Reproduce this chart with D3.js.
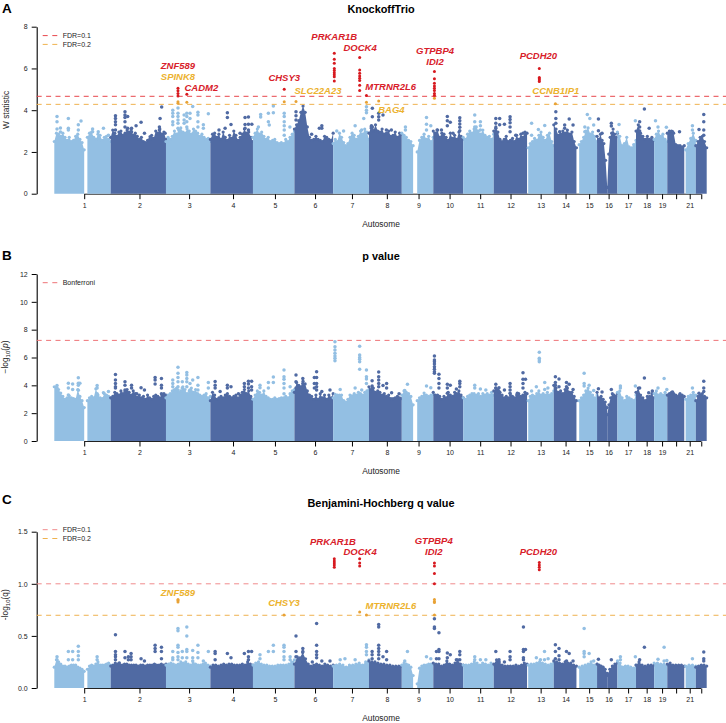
<!DOCTYPE html>
<html>
<head>
<meta charset="utf-8">
<script src="https://cdn.jsdelivr.net/npm/d3@7"></script>
<style>
  body { margin: 0; background: #fff; }
  text { font-family: "Liberation Sans", Arial, sans-serif; }
</style>
</head>
<body>
<script>
// genome position is in Mb along the concatenated autosomes
const tickPos = [132,376,595,789,974,1151,1314,1468,1608,1745,1880,2014,2147,2257,2361,2447,2533,2615,2683,2745,2805,2856];
const tickLabels = ["1","2","3","4","5","6","7","8","9","10","11","12","13","14","15","16","17","18","19","","21",""];
const chrStarts = [0,249,493,689,877,1060,1231,1389,1534,1673,1805,1940,2087,2205,2305,2396,2486,2568,2648,2706,2781,2832];

// stretches of genome with SNPs (start, end); the gaps are centromeres
const segments = [[0,132],[146,249],[249,493],[493,689],[689,877],[877,1060],[1060,1231],[1231,1389],[1389,1534],
  [1534,1584],[1602,1673],[1673,1805],[1805,1940],[1940,2087],[2092,2205],[2205,2305],[2317,2396],[2396,2441],[2441,2486],
  [2486,2568],[2568,2648],[2648,2706],[2706,2781],[2787,2832],[2832,2880]];

// top of the mass per segment, evenly sampled along it
const kfEnvelope = [
  [2.5,2.9,2.85,2.75,2.9,2.7,2.55,2.7,2.5,2.55,2.75,2.85,2.6,2.45,2.1],
  [2.7,2.9,2.95,2.7,2.6,2.85,2.8,2.55,2.7,2.75,2.6,2.5],
  [2.7,3.05,2.9,2.75,2.95,3.0,2.8,2.9,3.05,2.95,3.1,2.8,2.9,2.75,2.6,2.7,2.5,2.45,2.55,2.6,2.8,2.65,3.0,2.9,3.1,2.85,2.95,2.6],
  [2.5,2.7,2.6,2.75,3.0,2.85,3.05,3.15,2.95,2.9,3.1,3.0,2.85,3.1,3.0,2.9,2.75,2.85,2.7,2.6,2.65,2.5],
  [2.6,2.85,2.9,2.7,2.85,2.6,2.95,2.7,2.55,2.8,2.65,3.0,2.8,2.55,2.7,2.85,3.1,2.9,2.95,2.7,2.5],
  [2.7,2.9,3.1,2.85,2.95,2.75,2.6,2.7,2.5,2.55,2.6,2.45,2.4,2.45,2.4,2.6,2.5,2.7,2.85,3.0],
  [3.1,3.3,3.5,3.9,4.2,3.9,3.2,2.7,2.55,2.6,2.75,2.6,2.55,2.5,2.75,2.7,2.6,2.55,2.9],
  [2.4,2.6,2.5,2.9,2.7,2.45,2.3,2.4,2.7,2.9,2.8,2.6,2.75,3.0,2.85,3.1,2.95,2.6],
  [2.9,3.2,3.0,3.3,3.0,2.95,3.1,2.85,2.9,3.0,2.75,2.8,2.95,2.7,2.9,2.85],
  [2.9,2.8,2.7,2.55,2.5,2.3],
  [2.0,2.55,2.7,2.85,2.6,2.75,2.5,2.7],
  [3.0,2.9,3.05,2.7,2.9,2.85,2.7,2.55,2.9,2.65,2.8,2.6,2.95,2.75,2.6],
  [2.7,2.6,2.85,3.0,2.9,3.1,3.2,3.0,2.85,3.05,2.8,2.7,2.75,2.6,2.85],
  [3.0,3.2,2.95,2.6,2.5,2.6,2.75,2.5,2.55,2.65,2.5,2.8,2.6,2.85,2.7,2.95,2.9],
  [2.2,2.4,2.5,2.65,2.55,2.8,2.95,2.7,2.55,2.8,2.9,2.5,2.3],
  [3.3,3.1,2.8,2.85,3.0,2.9,3.05,2.85,2.95,2.5,2.2],
  [2.35,2.5,2.7,3.0,3.15,2.85,2.95,2.75,2.5],
  [2.75,2.6,2.85,2.55,2.4,1.6,0.3],
  [0.3,1.9,2.7,2.9,3.1,2.85,2.7,2.9],
  [2.95,2.75,2.3,2.4,2.7,2.25,2.2,2.35,2.55],
  [3.0,3.3,2.9,2.75,2.6,2.75,2.6,2.7,2.55],
  [2.6,2.85,3.0,2.75,2.85,2.6,2.5],
  [2.9,3.0,3.0,2.9,2.35,2.3,2.3,2.25,2.3],
  [2.1,2.4,2.65,2.9,2.55],
  [2.3,2.5,2.7,2.75,2.5,2.2]
];
const pEnvelope = [
  [3.9,3.85,3.7,3.45,3.2,3.0,3.1,3.25,3.1,3.05,3.0,3.7,3.2,2.9,2.4],
  [2.9,3.1,3.2,3.1,3.75,3.3,3.1,3.05,3.4,3.3,3.2,3.1],
  [3.1,3.2,3.5,3.4,3.3,3.6,3.4,3.55,3.7,3.5,3.3,3.6,3.4,3.15,3.3,3.1,3.2,3.0,3.3,3.1,3.0,3.2,3.3,3.2,3.1,3.3,3.4,3.3],
  [3.1,3.3,3.4,3.6,3.7,3.8,3.5,3.6,3.9,3.7,3.4,3.6,3.8,3.5,3.7,3.4,3.3,3.2,3.3,3.4,3.1,3.2],
  [2.9,3.5,3.3,3.0,3.1,3.2,3.1,3.3,3.4,3.2,3.1,3.2,3.3,3.1,3.3,3.5,3.7,3.4,3.6,3.2,3.0],
  [3.0,3.3,3.6,3.5,3.3,3.6,3.2,3.1,3.0,3.0,3.1,3.0,3.05,3.1,3.1,3.2,3.1,3.4,3.6,3.7],
  [3.5,4.2,4.0,3.9,4.3,4.1,3.6,3.3,3.2,3.0,3.3,3.0,3.4,3.1,3.3,3.0,3.3,3.1,3.4],
  [3.1,3.35,3.3,3.3,3.3,2.9,2.8,3.0,3.3,3.25,3.4,3.3,3.5,3.4,3.3,3.5,3.6,3.7],
  [3.9,3.7,3.8,3.5,3.6,3.5,3.3,3.4,3.2,3.3,3.05,3.05,3.1,3.2,3.1,3.05],
  [3.3,3.6,3.5,3.4,3.2,2.6],
  [2.9,3.1,3.2,3.45,3.3,3.2,3.3,3.35],
  [3.5,3.3,3.3,3.2,3.0,3.2,3.1,3.5,3.3,3.2,3.5,3.4,3.6,3.3,3.1],
  [3.1,3.0,3.2,3.3,3.4,3.4,3.3,3.4,3.2,3.4,3.3,3.4,3.3,3.5,3.3],
  [3.6,3.8,3.7,3.5,3.3,3.1,3.2,3.1,3.3,3.2,3.1,3.3,3.4,3.2,3.3,3.5,3.4],
  [2.9,3.2,3.3,3.2,3.4,3.6,3.3,3.4,3.3,3.5,3.3,3.4,3.6],
  [4.0,3.8,3.5,3.6,3.4,3.7,3.8,3.5,3.5,3.2,2.9],
  [2.9,3.1,3.3,3.6,3.8,3.5,3.3,3.1,3.3],
  [3.5,3.1,3.2,3.0,2.8,2.4],
  [1.9,2.6,3.1,3.4,3.3,3.2,3.4],
  [3.5,3.6,3.1,2.9,3.2,3.1,3.0,2.9,3.3],
  [3.5,3.8,3.3,3.1,2.9,3.2,3.2,3.4,3.1],
  [3.4,3.6,3.3,3.4,3.3,3.5,3.3],
  [3.3,3.4,3.5,3.4,3.3,3.2,3.4,3.3,3.2],
  [3.0,3.2,3.3,3.5,3.3],
  [2.9,3.2,3.3,3.4,3.2,3.1]
];
const qEnvelope = [
  [0.2,0.27,0.25,0.23,0.21,0.21,0.2,0.21,0.22,0.22,0.22,0.2,0.19,0.18,0.16],
  [0.18,0.21,0.22,0.21,0.23,0.25,0.22,0.22,0.22,0.23,0.24,0.22],
  [0.21,0.22,0.24,0.23,0.22,0.22,0.23,0.23,0.22,0.22,0.22,0.22,0.21,0.22,0.22,0.21,0.22,0.22,0.22,0.23,0.22,0.22,0.23,0.22,0.23],
  [0.22,0.23,0.24,0.23,0.22,0.23,0.25,0.24,0.25,0.23,0.22,0.24,0.23,0.22,0.22,0.23,0.24,0.22,0.21],
  [0.2,0.22,0.22,0.21,0.22,0.23,0.22,0.23,0.23,0.22,0.22,0.22,0.23,0.22,0.25,0.23,0.22],
  [0.22,0.24,0.25,0.23,0.22,0.22,0.21,0.21,0.21,0.22,0.22,0.22,0.22,0.23,0.25,0.27],
  [0.23,0.3,0.29,0.34,0.28,0.23,0.21,0.22,0.23,0.22,0.21,0.23,0.22,0.21,0.22],
  [0.21,0.22,0.23,0.22,0.2,0.22,0.22,0.23,0.24,0.22,0.25,0.27],
  [0.26,0.25,0.25,0.24,0.23,0.23,0.22,0.22,0.21,0.21,0.21,0.21],
  [0.22,0.24,0.23,0.22,0.2,0.12],
  [0.04,0.19,0.21,0.22,0.22,0.23,0.23,0.23],
  [0.24,0.23,0.23,0.21,0.22,0.26,0.23,0.22,0.24,0.27,0.23,0.22],
  [0.22,0.22,0.22,0.23,0.25,0.24,0.22,0.24,0.23,0.22,0.24,0.22],
  [0.23,0.27,0.25,0.22,0.21,0.21,0.21,0.21,0.22,0.21,0.22,0.24,0.23],
  [0.22,0.23,0.23,0.24,0.25,0.24,0.23,0.22,0.23,0.24],
  [0.26,0.25,0.24,0.23,0.25,0.24,0.24,0.22,0.21],
  [0.2,0.21,0.22,0.23,0.25,0.22,0.23],
  [0.23,0.22,0.21,0.2,0.18,0.14],
  [0.12,0.18,0.21,0.23,0.24],
  [0.26,0.24,0.2,0.21,0.21,0.2,0.19,0.22],
  [0.22,0.25,0.22,0.21,0.22,0.22,0.22],
  [0.24,0.24,0.23,0.23,0.22],
  [0.23,0.24,0.22,0.22,0.22,0.22,0.21],
  [0.21,0.22,0.22,0.21],
  [0.2,0.21,0.22,0.22,0.21]
];

// loose dots above the mass: [position, [values]]
const kfDots = [
  [12,[3.7,3.45,3.1]],[27,[3.15,2.95]],[62,[3.6,3.13,3.05]],[106,[3.3,3.05]],[118,[3.48]],
  [169,[3.1,2.97]],[194,[2.97]],[217,[3.13]],[239,[2.8]],
  [270,[3.73,3.6,3.45,3.3,3.05]],[312,[3.93,3.77,3.65,3.45,3.2]],[324,[3.7,3.13]],[341,[3.13,2.97]],[361,[3.25]],[383,[3.42]],[398,[2.9]],[423,[2.73]],[464,[3.2,3.05]],[467,[3.6]],[474,[4.15]],[489,[2.9]],
  [523,[4.0,3.85,3.7,3.45,3.3]],[546,[4.1,3.85,3.7,3.53,3.37,3.13]],[573,[3.77,3.53,3.37]],[585,[3.85,3.7,3.45,3.2]],[599,[3.85,3.6]],[611,[4.18]],[634,[3.9,3.77,3.45,3.2]],[658,[3.3,3.13]],[680,[3.83]],
  [727,[3.05]],[754,[3.13]],[764,[3.88,3.65]],[780,[3.32]],[820,[2.9]],[842,[3.65,3.32,3.13]],[857,[3.68,3.33,3.05]],[872,[3.33]],
  [901,[3.2]],[911,[3.8,3.68]],[945,[3.85,3.45]],[949,[3.29]],[967,[4.2,3.88]],[1015,[3.85,3.7,3.45,3.25,3.05,2.8]],[1040,[3.2]],
  [1067,[3.93,3.73,3.53]],[1136,[2.85]],[1170,[3.13]],[1181,[3.25,3.13]],
  [1247,[3.0]],[1277,[3.0]],[1328,[3.25]],[1357,[3.05]],[1366,[3.6]],[1378,[4.17,4.0,3.88]],
  [1400,[3.25,3.13]],[1404,[4.09,3.69,3.2,3.05]],[1432,[3.85,3.69,3.53]],[1451,[3.77]],[1466,[3.05]],[1488,[3.05]],
  [1550,[3.2,3.05]],[1643,[3.65,3.33,3.05]],[1662,[3.25]],
  [1690,[3.05]],[1709,[3.05]],[1735,[3.7,3.5,3.25]],[1748,[3.42]],[1760,[2.9]],[1790,[3.64,3.5,3.34,3.18,3.02]],
  [1856,[3.77,3.45,3.2,3.05]],[1881,[3.45,3.25,3.05]],[1900,[2.7]],
  [1949,[3.6,3.37,3.13,2.9]],[1966,[3.6,3.3]],[1987,[3.33]],[2012,[3.69,3.56,3.4,3.2,2.97]],[2037,[2.8]],[2069,[2.9]],
  [2107,[3.37,2.8]],[2137,[3.08]],[2165,[3.27]],
  [2214,[3.93,3.6,3.37]],[2231,[2.97]],[2253,[3.29,3.13]],[2273,[3.58]],[2290,[3.29]],
  [2342,[3.2,2.97]],[2353,[3.79]],[2364,[3.6]],[2381,[3.29]],
  [2402,[3.58,3.02]],[2418,[2.9]],[2459,[3.37,3.24]],[2493,[3.32]],[2565,[3.5]],
  [2584,[3.45,3.2,3.0]],[2605,[4.06]],[2626,[3.13]],
  [2654,[3.5]],[2665,[3.2]],[2702,[3.18]],[2729,[2.97]],[2760,[2.97]],[2817,[3.25,3.05]],[2846,[3.08]],[2867,[3.8,3.45,3.05,2.8]]
];
const pDots = [
  [12,[3.98,3.8]],[62,[4.15,3.8,3.3]],[81,[4.1,3.7]],[106,[4.55,4.15,4.0,3.65]],[113,[4.15]],
  [189,[3.98,3.8,3.4]],[217,[3.47]],[239,[3.55]],
  [270,[4.77,4.38,4.14,3.9,3.8]],[312,[4.26,4.0,3.66,3.4]],[341,[4.0,3.8]],[364,[3.4]],[383,[3.83]],[398,[3.66]],[445,[4.57,4.38,4.1]],[473,[4.5,4.0,3.8,3.4]],
  [523,[4.38,4.14,3.9]],[546,[5.3,4.86,4.57,4.26,3.9,3.66]],[565,[4.26,3.8]],[585,[4.93,4.74,4.5,4.26,3.9]],[599,[4.14,3.66]],[611,[4.38]],[634,[4.57,4.0,3.66]],[680,[4.2,3.8]],
  [710,[4.28,4.0,3.8]],[732,[3.55]],[764,[4.0,3.8]],[780,[3.9]],[813,[3.4]],[839,[4.14,3.9]],[857,[4.3,4.1,3.8]],[871,[4.3,3.9,3.66]],
  [901,[3.4]],[908,[4.0,3.83]],[945,[4.2,3.8]],[967,[4.6,4.2]],[1014,[5.1,4.62,4.43,4.14,3.8,3.4]],[1041,[3.9]],
  [1067,[4.74,4.26,3.8]],[1097,[4.5,4.14,3.9]],[1148,[4.57,4.14,3.8]],[1158,[4.98,4.57,4.14,3.9,3.66]],[1181,[3.55]],[1217,[3.66]],
  [1239,[7.14,6.78,6.54,6.3,6.1,5.94,5.77]],[1262,[3.7]],[1328,[3.8]],[1348,[6.8,6.18,6.0,5.87,5.7,5.15]],[1357,[3.66]],[1378,[5.1,4.62,4.45,4.14]],
  [1403,[4.33,3.95,3.8]],[1432,[4.96,4.62,4.38,4.14,3.9]],[1451,[3.98]],[1467,[4.14,3.8]],[1489,[3.47]],[1522,[3.4]],
  [1547,[3.63]],[1559,[4.07]],[1643,[3.95]],[1662,[3.83]],
  [1678,[6.1,5.82,5.7,5.53,5.34,5.15,4.98,4.86]],[1698,[4.79,4.5,4.14,3.8]],[1735,[4.07,3.8,3.43]],[1748,[4.0]],[1775,[3.73]],[1790,[4.3,4.14,3.9]],
  [1856,[4.0,3.8]],[1881,[3.73]],[1905,[3.66]],
  [1949,[4.07,3.8]],[1963,[3.83,3.55]],[1987,[3.66]],[2012,[4.14,3.9,3.66,3.43]],[2044,[3.43]],[2069,[4.9,4.43,4.14,3.8]],[2080,[4.43]],
  [2107,[3.6]],[2128,[3.9]],[2141,[6.37,5.94,5.82,5.7]],[2165,[4.2,3.7]],[2179,[3.8]],
  [2212,[4.62,4.2,4.0,3.8]],[2228,[4.45,3.9]],[2261,[4.2,3.9,3.66]],[2273,[4.07]],[2290,[3.7]],
  [2339,[4.86,4.14,3.95]],[2361,[4.0]],[2381,[3.63]],
  [2402,[3.76]],[2418,[3.52]],[2459,[3.7]],[2499,[3.95,3.8]],[2565,[3.95]],
  [2584,[3.8]],[2605,[4.53]],[2624,[3.47]],[2640,[3.6]],
  [2665,[3.8]],[2692,[4.5]],[2704,[3.7]],[2729,[3.52]],[2761,[3.33]],[2817,[3.8]],[2846,[3.43]],[2867,[4.3,3.8,3.55]]
];
const qDots = [
  [12,[0.3,0.27]],[62,[0.35,0.27]],[81,[0.35,0.27]],[106,[0.4,0.35,0.31,0.27]],[189,[0.3,0.27]],
  [270,[0.51,0.35,0.32,0.3,0.27]],[287,[0.24]],[312,[0.35,0.29]],[327,[0.3,0.27]],[339,[0.33,0.3,0.27]],[383,[0.28]],[398,[0.26]],[445,[0.41,0.38,0.35]],[473,[0.39,0.35,0.28]],
  [523,[0.35,0.29,0.27]],[546,[0.57,0.55,0.41,0.39,0.34,0.3,0.27]],[565,[0.35,0.29]],[585,[0.585,0.5,0.37,0.35,0.29]],[611,[0.36,0.29,0.26]],[634,[0.41,0.34,0.29]],[658,[0.26]],[680,[0.35]],
  [710,[0.35,0.33,0.27]],[764,[0.33]],[780,[0.29]],[839,[0.33]],[857,[0.35,0.3,0.27]],[871,[0.35]],
  [908,[0.32,0.28]],[945,[0.35]],[967,[0.41,0.35]],[1014,[0.41,0.39,0.35,0.3,0.27]],[1041,[0.3,0.27]],
  [1067,[0.5,0.35,0.3]],[1097,[0.38,0.35]],[1139,[0.25]],[1158,[0.62,0.41,0.35,0.32,0.29]],[1181,[0.26]],[1217,[0.26]],
  [1262,[0.27]],[1283,[0.28]],[1328,[0.27]],[1378,[0.415,0.39,0.35,0.32]],
  [1403,[0.35,0.32,0.28]],[1432,[0.61,0.585,0.41,0.38,0.35,0.32,0.28]],[1451,[0.3]],[1467,[0.35,0.27]],
  [1547,[0.26]],[1559,[0.35]],[1643,[0.3]],[1662,[0.28]],
  [1678,[0.665,0.585,0.57]],[1687,[0.35,0.28]],[1698,[0.53,0.37,0.35,0.28]],[1735,[0.335,0.29]],[1748,[0.32]],[1775,[0.27]],[1790,[0.35,0.32,0.27]],
  [1856,[0.3,0.27]],[1881,[0.27]],[1905,[0.27]],
  [1949,[0.35]],[1963,[0.27]],[1987,[0.25]],[2012,[0.35,0.3,0.27]],[2071,[0.585,0.37,0.35,0.29,0.27]],[2080,[0.37]],
  [2128,[0.29]],[2146,[0.27]],[2164,[0.35,0.27]],[2180,[0.28]],
  [2212,[0.415,0.35,0.28]],[2228,[0.38,0.31,0.27]],[2261,[0.35,0.26]],[2273,[0.33]],[2290,[0.26]],
  [2339,[0.57,0.35,0.33,0.3]],[2361,[0.33]],[2381,[0.26]],
  [2402,[0.275]],[2459,[0.27]],[2499,[0.3,0.27]],[2565,[0.3]],
  [2584,[0.27]],[2605,[0.39]],[2665,[0.275]],[2692,[0.39,0.26]],[2704,[0.265]],[2817,[0.28]],[2867,[0.345,0.28,0.26]]
];

// highlighted SNPs
const kfRed = [
  [546,[5.05,4.93,4.8,4.68]],[585,[4.76]],[1015,[5.0]],
  [1236,[6.73,6.44,6.25,6.0,5.9,5.8,5.7,5.6,5.4]],[1348,[6.52,5.93,5.77,5.64,5.53,5.42,5.2,4.94]],[1378,[4.71]],
  [1678,[5.85,5.51,5.29,5.16,5.05,4.94,4.8,4.7]],[2141,[6.0,5.57,5.51,5.45,5.38]]
];
const kfOrange = [[546,[4.4,4.33]],[585,[4.38]],[1015,[4.41]],[1067,[4.42]],[1378,[4.38]],[1432,[4.44]],[1678,[4.57]],[2212,[4.31]]];
const qRed = [[1236,[1.24,1.22,1.2,1.18,1.16]],[1348,[1.24,1.2,1.17]],[1678,[1.2,1.17,1.1,1.0]],[2141,[1.205,1.18,1.16,1.135]]];
const qOrange = [[546,[0.85,0.84,0.825]],[1014,[0.7]],[1348,[0.73]],[1378,[0.7]],[1678,[0.85,0.83,0.82,0.7]]];

// gene names: [name, position, height]
const kfRedGenes = [["ZNF589",546,6.13],["CADM2",649,5.08],["CHSY3",1015,5.54],["PRKAR1B",1236,7.52],["DOCK4",1350,6.98],["MTRNR2L6",1485,5.14],["GTPBP4",1681,6.85],["IDI2",1681,6.31],["PCDH20",2137,6.63]];
const kfOrangeGenes = [["SPINK8",546,5.6],["SLC22A23",1164,4.92],["BAG4",1488,4.04],["CCNB1IP1",2214,4.93]];
const qRedGenes = [["PRKAR1B",1230,1.407],["DOCK4",1350,1.305],["GTPBP4",1675,1.417],["IDI2",1675,1.308],["PCDH20",2137,1.305]];
const qOrangeGenes = [["ZNF589",546,0.915],["CHSY3",1014,0.815],["MTRNR2L6",1486,0.787]];

const lightBlue = "#93bfe3", darkBlue = "#506aa3";
const red = "#d7191f", orange = "#e8a235", redText = "#d8202a", orangeText = "#ecb22e";

var svg = d3.select("body").append("svg").attr("width", 726).attr("height", 723);
var x = d3.scaleLinear().domain([0, 2880]).range([54.3, 706.7]);

function chrColor(pos) {
  return d3.bisectRight(chrStarts, pos) % 2 == 1 ? lightBlue : darkBlue;
}
function flatten(cols) {
  return cols.flatMap(c => c[1].map(v => [c[0], v]));
}

function drawPanel(p) {
  var g = svg.append("g");
  var y = d3.scaleLinear().domain(p.domain).range(p.range);
  var y0 = p.range[0];

  // axes first, the points sit on top of them
  g.append("line").attr("x1", x(tickPos[0])).attr("x2", x(tickPos[tickPos.length - 1]))
    .attr("y1", y0 + 0.5).attr("y2", y0 + 0.5).attr("stroke", "#222").attr("stroke-width", 1);
  var xAxis = g.append("g").attr("transform", "translate(0," + (y0 + 0.5) + ")")
    .call(d3.axisBottom(x).tickValues(tickPos).tickFormat((d, i) => tickLabels[i]).tickSize(5).tickPadding(4));
  xAxis.select(".domain").remove();
  xAxis.selectAll("text").attr("font-size", 7).attr("font-family", "Liberation Sans").attr("fill", "#222");
  var yAxis = g.append("g").attr("transform", "translate(36.7,0)")
    .call(d3.axisLeft(y).tickValues(p.ticks).tickFormat(p.tickFormat).tickSize(5).tickSizeOuter(0).tickPadding(4));
  yAxis.select(".domain").attr("stroke-width", 1.1);
  yAxis.selectAll("text").attr("font-size", 7).attr("font-family", "Liberation Sans").attr("fill", "#222");

  // solid mass of SNPs, with a round dot on every sample so the top edge stays bumpy
  var area = d3.area().x(d => x(d[0])).y0(y(0)).y1(d => y(d[1]));
  segments.forEach(function(seg, i) {
    var vals = p.envelope[i];
    var pos = d3.scaleLinear().domain([0, vals.length - 1]).range(seg);
    var pts = vals.map((v, k) => [pos(k), v]);
    var col = chrColor((seg[0] + seg[1]) / 2);
    g.append("path").datum(pts).attr("d", area).attr("fill", col);
    g.selectAll(null).data(pts).enter().append("circle")
      .attr("cx", d => x(d[0])).attr("cy", d => y(d[1])).attr("r", 1.6).attr("fill", col);
  });

  g.selectAll("circle.dot").data(flatten(p.dots)).enter().append("circle")
    .attr("class", "dot")
    .attr("cx", d => x(d[0])).attr("cy", d => y(d[1])).attr("r", 1.75)
    .attr("fill", d => chrColor(d[0]));

  // thresholds and legend
  p.lines.forEach(function(l, i) {
    g.append("line").attr("x1", 36.7).attr("x2", 726)
      .attr("y1", y(l.value)).attr("y2", y(l.value))
      .attr("stroke", l.color).attr("stroke-width", 1).attr("stroke-dasharray", "5,4.4");
    var ly = p.legendY + i * 8.8;
    g.append("line").attr("x1", 42.7).attr("x2", 57.3).attr("y1", ly).attr("y2", ly)
      .attr("stroke", l.color).attr("stroke-width", 1).attr("stroke-dasharray", "5,4.6");
    g.append("text").attr("x", 62.7).attr("y", ly + 2.4).attr("font-size", 7).attr("fill", "#222").text(l.name);
  });

  g.selectAll("circle.red").data(flatten(p.red)).enter().append("circle")
    .attr("class", "red").attr("cx", d => x(d[0])).attr("cy", d => y(d[1])).attr("r", 1.5).attr("fill", red);
  g.selectAll("circle.orange").data(flatten(p.orange)).enter().append("circle")
    .attr("class", "orange").attr("cx", d => x(d[0])).attr("cy", d => y(d[1])).attr("r", 1.5).attr("fill", orange);

  function genes(list, color) {
    g.selectAll(null).data(list).enter().append("text")
      .attr("x", d => x(d[1])).attr("y", d => y(d[2]) + 3.3)
      .attr("text-anchor", "middle").attr("font-size", 9.5)
      .attr("font-weight", "bold").attr("font-style", "italic")
      .attr("fill", color).text(d => d[0]);
  }
  genes(p.redGenes, redText);
  genes(p.orangeGenes, orangeText);

  g.append("text").attr("x", 381).attr("y", p.titleY + 3.8).attr("text-anchor", "middle")
    .attr("font-size", 10.9).attr("font-weight", "bold").text(p.title);
  g.append("text").attr("x", 381).attr("y", y0 + 33).attr("text-anchor", "middle")
    .attr("font-size", 8.4).attr("fill", "#222").text("Autosome");
  g.append("text").attr("x", 2).attr("y", p.letterY + 4.7)
    .attr("font-size", 13.5).attr("font-weight", "bold").text(p.letter);

  var yt = g.append("text").attr("transform", "translate(" + p.ylabX + "," + p.ylabY + ") rotate(-90)")
    .attr("text-anchor", "middle").attr("font-size", 8.4).attr("fill", "#222");
  p.ylab.forEach(function(part) {
    var t = yt.append("tspan").text(part.t);
    if (part.sub) t.attr("font-size", 6).attr("dy", 2);
    if (part.up) t.attr("dy", -2);
    if (part.it) t.attr("font-style", "italic");
  });
}

drawPanel({
  letter: "A", letterY: 8, title: "KnockoffTrio", titleY: 9,
  domain: [0, 8], range: [193.7, 26.7], ticks: [0, 2, 4, 6, 8], tickFormat: d3.format("d"),
  envelope: kfEnvelope, dots: kfDots, red: kfRed, orange: kfOrange,
  redGenes: kfRedGenes, orangeGenes: kfOrangeGenes, legendY: 35.6,
  lines: [{ value: 4.666, color: "#e8474c", name: "FDR=0.1" }, { value: 4.28, color: "#efb24e", name: "FDR=0.2" }],
  ylab: [{ t: "W statistic" }], ylabX: 9, ylabY: 110
});
drawPanel({
  letter: "B", letterY: 255.7, title: "p value", titleY: 256,
  domain: [0, 12], range: [441, 274], ticks: [0, 2, 4, 6, 8, 10, 12], tickFormat: d3.format("d"),
  envelope: pEnvelope, dots: pDots, red: [], orange: [],
  redGenes: [], orangeGenes: [], legendY: 282.7,
  lines: [{ value: 7.23, color: "#ee7377", name: "Bonferroni" }],
  ylab: [{ t: "−log" }, { t: "10", sub: true }, { t: "(", up: true }, { t: "p", it: true }, { t: ")" }], ylabX: 8, ylabY: 357
});
drawPanel({
  letter: "C", letterY: 499.7, title: "Benjamini-Hochberg q value", titleY: 503.3,
  domain: [0, 1.5], range: [688, 531.7], ticks: [0, 0.5, 1, 1.5], tickFormat: d3.format(".1f"),
  envelope: qEnvelope, dots: qDots, red: qRed, orange: qOrange,
  redGenes: qRedGenes, orangeGenes: qOrangeGenes, legendY: 529.7,
  lines: [{ value: 1.0, color: "#f08a8c", name: "FDR=0.1" }, { value: 0.698, color: "#efb24e", name: "FDR=0.2" }],
  ylab: [{ t: "-log" }, { t: "10", sub: true }, { t: "(q)", up: true }], ylabX: 8, ylabY: 604.7
});
</script>
</body>
</html>
